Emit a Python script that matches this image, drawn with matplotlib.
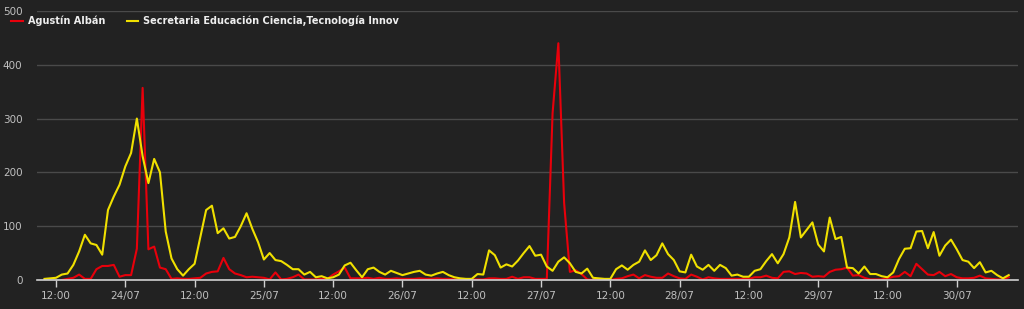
import numpy as np
import pandas as pd
import matplotlib
matplotlib.use('Agg')
import matplotlib.pyplot as plt
import matplotlib.dates as mdates

# hourly counts, starting 23/07 10:00
start = '2014-07-23 10:00'

agustin = [np.nan, np.nan, np.nan, 0, 2, 4, 10, 2, 2, 20, 26, 26, 28, 6, 9, 9,
           58, 357, 57, 62, 23, 20, 2, 3, 2, 2, 3, 4, 12, 15, 16, 41,
           20, 12, 9, 5, 6, 5, 4, 1, 14, 1, 2, 5, 10, 1, 1, 1,
           2, 2, 10, 16, 23, 3, 3, 3, 4, 2, 4, 2, 2, 3, 2, 2,
           2, 3, 2, 2, 3, 2, 2, 1, 1, 1, 1, 1, 1, 3, 3, 2,
           2, 6, 2, 5, 5, 2, 2, 2, 310, 440, 143, 15, 18, 11, 1, 0,
           0, 0, 0, 2, 3, 7, 10, 3, 9, 6, 4, 4, 12, 7, 3, 2,
           10, 6, 1, 5, 3, 2, 2, 2, 2, 2, 2, 5, 5, 8, 4, 3,
           15, 16, 11, 13, 12, 6, 7, 6, 15, 19, 20, 23, 8, 9, 4, 1,
           1, 1, 3, 6, 7, 15, 7, 30, 20, 10, 9, 15, 7, 11, 5, 3,
           3, 4, 8, 3, 2, 1, 1, 5]

secretaria = [2, 3, 4, 10, 12, 28, 53, 84, 68, 65, 47, 130, 155, 177, 211, 236,
              300, 230, 180, 225, 200, 90, 40, 20, 8, 20, 30, 80, 130, 138, 87, 96,
              77, 80, 100, 124, 95, 70, 38, 50, 37, 35, 28, 20, 20, 10, 15, 5,
              7, 3, 5, 10, 27, 32, 18, 5, 20, 23, 15, 10, 17, 13, 9, 12,
              15, 17, 10, 8, 12, 15, 9, 5, 3, 2, 2, 11, 10, 55, 46, 23,
              29, 25, 36, 50, 63, 45, 47, 25, 17, 34, 42, 31, 15, 12, 21, 4,
              3, 2, 2, 20, 27, 19, 28, 34, 55, 37, 46, 68, 48, 37, 16, 14,
              47, 25, 19, 28, 17, 28, 22, 8, 10, 6, 6, 17, 20, 35, 48, 31,
              48, 79, 145, 79, 93, 107, 66, 53, 116, 76, 80, 23, 22, 12, 25, 11,
              11, 7, 5, 14, 39, 58, 59, 90, 91, 59, 89, 45, 64, 75, 57, 37,
              34, 22, 33, 14, 17, 9, 3, 9]

labels = ['Agustín Albán', 'Secretaria Educación Ciencia,Tecnología Innov']
colors = ['#e8000b', '#f0e000']

times = pd.date_range(start, periods=len(secretaria), freq='h')
df = pd.DataFrame({labels[0]: agustin, labels[1]: secretaria}, index=times)

bg = '#222222'
fig = plt.figure(figsize=(10.24, 3.09), dpi=100, facecolor=bg)
ax = fig.add_axes([0.0361, 0.094, 0.958, 0.8705], facecolor=bg)

for lab, c in zip(labels, colors):
    ax.plot(df.index, df[lab], color=c, lw=1.5, label=lab)

ax.set_ylim(0, 500)
ax.set_yticks([0, 100, 200, 300, 400, 500])
ax.set_xlim(times[0] - pd.Timedelta(hours=1.3), times[0] + pd.Timedelta(hours=168.6))

ax.xaxis.set_major_locator(mdates.HourLocator(byhour=[0, 12]))
def fmt(x, pos):
    d = mdates.num2date(x)
    return d.strftime('%d/%m') if d.hour == 0 else d.strftime('%H:%M')
ax.xaxis.set_major_formatter(plt.FuncFormatter(fmt))

ax.grid(axis='y', color='#4a4a4a', lw=1)
ax.set_axisbelow(True)
for s in ['top', 'right', 'left']:
    ax.spines[s].set_visible(False)
ax.spines['bottom'].set_color('#d0d0d0')
ax.spines['bottom'].set_linewidth(1.2)
ax.tick_params(axis='x', colors='#d0d0d0', labelcolor='#c0c0c0', length=5, width=1, labelsize=7.5, pad=3)
ax.tick_params(axis='y', length=0, labelcolor='#c0c0c0', labelsize=7.5, pad=10.5)

leg = ax.legend(loc='upper left', bbox_to_anchor=(-0.035, 1.015), ncol=2, frameon=False,
                handlelength=1.2, handletextpad=0.5, columnspacing=2.2,
                prop={'weight': 'bold', 'size': 7})
for t in leg.get_texts():
    t.set_color('#eeeeee')

fig.savefig('out.png', dpi=100, facecolor=bg)
